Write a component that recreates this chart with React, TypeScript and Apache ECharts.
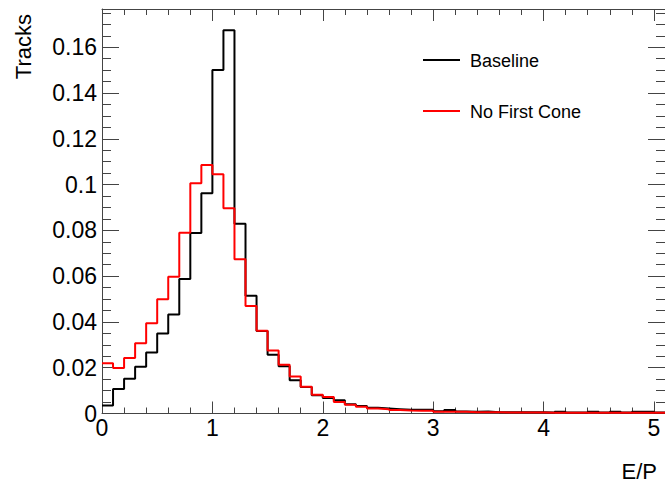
import React, { useEffect, useRef } from 'react';
import * as echarts from 'echarts';

// E/P histogram, bins of width 0.1 starting at 0
const binWidth = 0.1;
const seriesNames = ['Baseline', 'No First Cone'];
const seriesColors = ['#000000', '#ff0000'];

const baseline = [
  0.0035, 0.0107, 0.0152, 0.0204, 0.0267, 0.0349, 0.0433, 0.0587, 0.0788, 0.0962,
  0.1500, 0.1674, 0.0829, 0.0514, 0.0360, 0.0257, 0.0206, 0.0145, 0.0116, 0.0080,
  0.0068, 0.0058, 0.0040, 0.0033, 0.0025, 0.0022, 0.0019, 0.0016, 0.0016, 0.0016,
  0.0010, 0.0015, 0.0009, 0.0008, 0.0009, 0.0006, 0.0005, 0.0005, 0.0005, 0.0005,
  0.0004, 0.0008, 0.0004, 0.0004, 0.0008, 0.0004, 0.0008, 0.0004, 0.0008, 0.0008, 0.0004,
];

const noFirstCone = [
  0.0220, 0.0199, 0.0242, 0.0307, 0.0394, 0.0499, 0.0597, 0.0790, 0.1006, 0.1086,
  0.1045, 0.0897, 0.0674, 0.0470, 0.0362, 0.0275, 0.0213, 0.0162, 0.0117, 0.0082,
  0.0072, 0.0050, 0.0038, 0.0029, 0.0022, 0.0019, 0.0015, 0.0013, 0.0012, 0.0012,
  0.0008, 0.0008, 0.0008, 0.0005, 0.0005, 0.0005, 0.0004, 0.0004, 0.0004, 0.0004,
  0.0003, 0.0003, 0.0003, 0.0003, 0.0003, 0.0003, 0.0003, 0.0003, 0.0003, 0.0003, 0.0003,
];

const xTicks = [0, 1, 2, 3, 4, 5];
const yTicks = [0, 0.02, 0.04, 0.06, 0.08, 0.1, 0.12, 0.14, 0.16];
const xTitle = 'E/P';
const yTitle = 'Tracks';

const X_MAX = 5.1;
const Y_MAX = 0.1767;

function stepPoints(values: number[]): number[][] {
  const pts = values.map((v, i) => [+(i * binWidth).toFixed(2), v]);
  pts.push([+(values.length * binWidth).toFixed(2), values[values.length - 1]]);
  return pts;
}

function minorValues(step: number, max: number, majorStep: number): number[] {
  const out: number[] = [];
  const n = Math.floor(max / step + 1e-9);
  for (let i = 1; i <= n; i++) {
    const v = +(i * step).toFixed(4);
    const r = v / majorStep;
    if (Math.abs(r - Math.round(r)) < 1e-6) continue;
    if (v < max) out.push(v);
  }
  return out;
}

const xMinor = minorValues(0.2, X_MAX, 1);
const yMinor = minorValues(0.005, Y_MAX, 0.02);

const AXIS_COLOR = '#444';
const FONT = 'Liberation Sans, Arial, Helvetica, sans-serif';

function xAxisDef(position: string, ticks: number[], len: number, showLabel: boolean, showLine: boolean) {
  return {
    type: 'value',
    position,
    min: 0,
    max: X_MAX,
    axisLine: { show: showLine, onZero: false, lineStyle: { color: AXIS_COLOR, width: 1 } },
    axisTick: { show: true, inside: true, length: len, customValues: ticks, lineStyle: { color: AXIS_COLOR, width: 1 } },
    axisLabel: {
      show: showLabel,
      customValues: xTicks,
      margin: 3,
      color: '#000',
      fontSize: 23,
      fontFamily: FONT,
      formatter: (v: number) => String(v),
    },
    splitLine: { show: false },
  };
}

function yAxisDef(position: string, ticks: number[], len: number, showLabel: boolean, showLine: boolean) {
  return {
    type: 'value',
    position,
    min: 0,
    max: Y_MAX,
    axisLine: { show: showLine, onZero: false, lineStyle: { color: AXIS_COLOR, width: 1 } },
    axisTick: { show: true, inside: true, length: len, customValues: ticks, lineStyle: { color: AXIS_COLOR, width: 1 } },
    axisLabel: {
      show: showLabel,
      customValues: yTicks,
      margin: 5,
      color: '#000',
      fontSize: 23,
      fontFamily: FONT,
      formatter: (v: number) => String(+v.toFixed(2)),
    },
    splitLine: { show: false },
  };
}

export default function App() {
  const ref = useRef<HTMLDivElement>(null);

  useEffect(() => {
    if (!ref.current) return;
    const chart = echarts.init(ref.current, undefined, { renderer: 'svg' });
    const legendY = [60, 111];
    chart.setOption({
      animation: false,
      backgroundColor: '#ffffff',
      grid: { left: 102, top: 9, right: 0, bottom: 68.5, containLabel: false },
      xAxis: [
        xAxisDef('bottom', xTicks, 12, true, true),
        xAxisDef('bottom', xMinor, 6, false, false),
        xAxisDef('top', xTicks, 12, false, true),
        xAxisDef('top', xMinor, 6, false, false),
      ],
      yAxis: [
        yAxisDef('left', yTicks, 17, true, true),
        yAxisDef('left', yMinor, 9, false, false),
        yAxisDef('right', yTicks, 17, false, true),
        yAxisDef('right', yMinor, 9, false, false),
      ],
      series: [
        {
          name: seriesNames[0],
          type: 'line',
          step: 'end',
          xAxisIndex: 0,
          yAxisIndex: 0,
          data: stepPoints(baseline),
          symbol: 'none',
          lineStyle: { color: seriesColors[0], width: 2 },
          itemStyle: { color: seriesColors[0] },
          z: 3,
        },
        {
          name: seriesNames[1],
          type: 'line',
          step: 'end',
          xAxisIndex: 0,
          yAxisIndex: 0,
          data: stepPoints(noFirstCone),
          symbol: 'none',
          lineStyle: { color: seriesColors[1], width: 2 },
          itemStyle: { color: seriesColors[1] },
          z: 4,
        },
      ],
      graphic: [
        ...seriesNames.flatMap((name, i) => [
          {
            type: 'line',
            shape: { x1: 423, y1: legendY[i], x2: 460, y2: legendY[i] },
            style: { stroke: seriesColors[i], lineWidth: 2 },
          },
          {
            type: 'text',
            x: 470,
            y: legendY[i] + 1,
            style: { text: name, fill: '#000', font: `18px ${FONT}`, align: 'left', verticalAlign: 'middle' },
          },
        ]),
        {
          type: 'text',
          x: 657,
          y: 471,
          style: { text: xTitle, fill: '#000', font: `22px ${FONT}`, align: 'right', verticalAlign: 'middle' },
        },
        {
          type: 'text',
          x: 23,
          y: 14,
          rotation: Math.PI / 2,
          style: { text: yTitle, fill: '#000', font: `22px ${FONT}`, align: 'right', verticalAlign: 'middle' },
        },
      ],
    });
    return () => chart.dispose();
  }, []);

  return (
    <div
      ref={ref}
      style={{ position: 'fixed', left: 0, top: 0, width: 665, height: 482, background: '#fff' }}
    />
  );
}
